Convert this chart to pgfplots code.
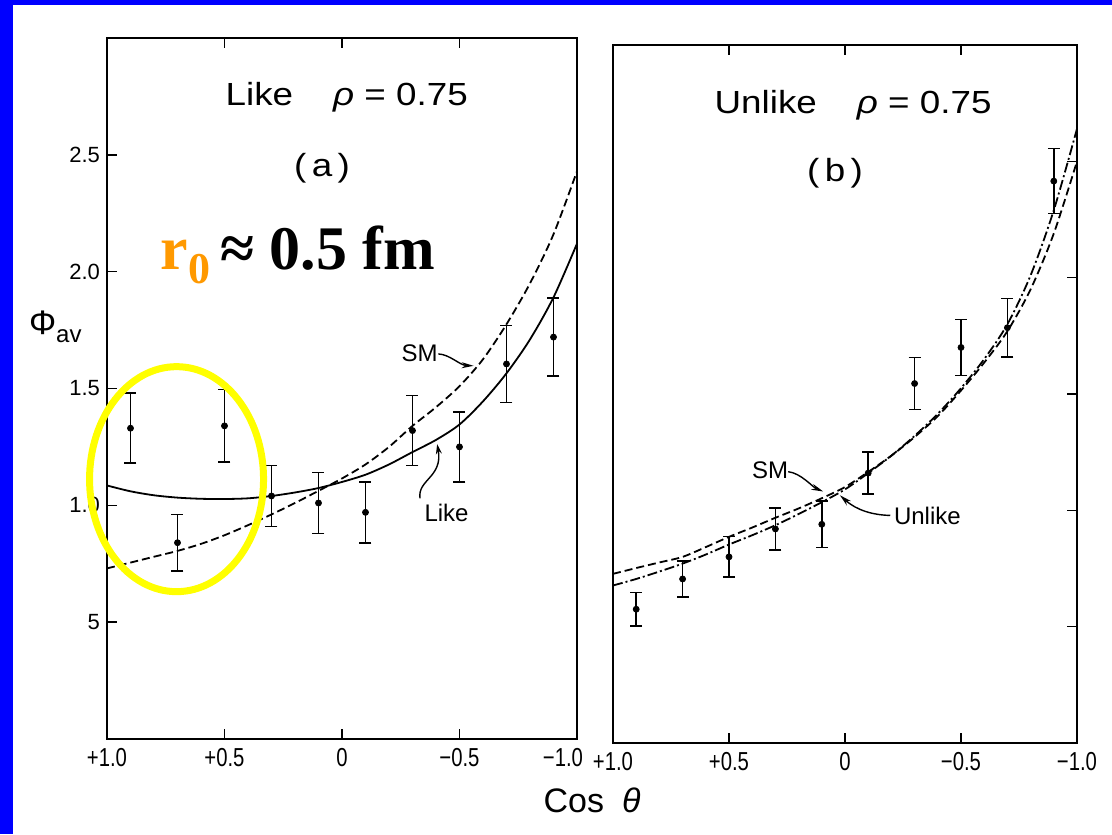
\documentclass[border=0pt]{standalone}
\usepackage{pgfplots}
\pgfplotsset{compat=1.18}
\usepackage{fontspec}
\setmainfont{Liberation Sans}
\newfontfamily\timesfont{Liberation Serif}
\newfontfamily\narrowfont[FakeStretch=0.78]{Liberation Sans}
\newfontfamily\widefont[FakeStretch=1.15]{Liberation Sans}
\usetikzlibrary{arrows.meta}
\definecolor{slideblue}{RGB}{0,0,255}
\definecolor{pporange}{RGB}{255,153,0}
\definecolor{hiyellow}{RGB}{255,255,0}

\pgfplotstableread{
x y e
0.9 1.33 0.15
0.7 0.84 0.12
0.5 1.34 0.155
0.3 1.04 0.13
0.1 1.01 0.13
-0.1 0.97 0.13
-0.3 1.32 0.15
-0.5 1.25 0.15
-0.7 1.605 0.165
-0.9 1.72 0.167
}\likedata

\pgfplotstableread{
x y e
0.9 0.575 0.072
0.7 0.705 0.077
0.5 0.80 0.087
0.3 0.92 0.09
0.1 0.94 0.10
-0.1 1.16 0.09
-0.3 1.545 0.112
-0.5 1.70 0.12
-0.7 1.785 0.126
-0.9 2.415 0.14
}\unlikedata

\pgfplotsset{
  panel/.style={
    scale only axis, clip=false,
    xmin=-1, xmax=1, x dir=reverse,
    ymin=0, ymax=3.0,
    xtick={1,0.5,0,-0.5,-1},
    xtick pos=both, xticklabel pos=lower,
    ytick={0.5,1,1.5,2,2.5},
    tick align=inside,
    major tick length=5pt,
    axis line style={line width=1.1pt},
    every tick/.style={line width=0.8pt, black},
    xticklabel style={font=\narrowfont\fontsize{13}{13}\selectfont, yshift=-1pt},
    yticklabel style={font=\fontsize{11}{11}\selectfont},
  },
  datapts/.style={only marks, black, mark=*, mark size=1.5pt,
    mark options={fill=black, draw=black},
    error bars/.cd, y dir=both, y explicit,
    error bar style={line width=0.8pt, black},
    error mark options={rotate=90, mark size=3pt, line width=0.8pt, black}},
  smcurve/.style={black, line width=0.9pt, smooth, no marks, dash pattern=on 4pt off 2pt},
  likecurve/.style={black, line width=0.9pt, smooth, no marks, solid},
  unlikecurve/.style={black, line width=0.9pt, smooth, no marks, dash pattern=on 5pt off 1.5pt on 1pt off 1.5pt},
}

\begin{document}
\begin{tikzpicture}
\path[use as bounding box] (0,0) rectangle (556pt,417pt);
\fill[slideblue] (0,0) rectangle (556pt,417pt);
\fill[white] (6.5pt,0) rectangle (556pt,414.5pt);

% ---------------- left panel ----------------
\begin{axis}[panel, at={(53.5pt,47.5pt)}, anchor=south west,
  width=235pt, height=350.5pt,
  xticklabels={+1.0,+0.5,0,−0.5,{−1.0\rule{14pt}{0pt}}},
  ytick pos=left,
  yticklabels={5,1.0,1.5,2.0,2.5}]
\addplot+[smcurve] coordinates {
(1.0,0.73) (0.9,0.755) (0.8,0.78) (0.7,0.805) (0.6,0.835) (0.5,0.872)
(0.4,0.915) (0.3,0.961) (0.2,1.01) (0.1,1.062) (0.0,1.115) (-0.1,1.175)
(-0.2,1.25) (-0.3,1.34) (-0.4,1.42) (-0.5,1.51) (-0.6,1.625) (-0.7,1.775)
(-0.8,1.95) (-0.9,2.16) (-1.0,2.43)};
\addplot+[likecurve] coordinates {
(1.0,1.085) (0.9,1.06) (0.8,1.043) (0.7,1.033) (0.6,1.028) (0.5,1.027)
(0.4,1.03) (0.3,1.04) (0.2,1.055) (0.1,1.074) (0.0,1.10) (-0.1,1.131)
(-0.2,1.175) (-0.3,1.228) (-0.4,1.28) (-0.5,1.346) (-0.6,1.445) (-0.7,1.565)
(-0.8,1.71) (-0.9,1.89) (-1.0,2.12)};
\addplot+[datapts] table[x=x, y=y, y error=e] {\likedata};

\node[font=\widefont\fontsize{16}{16}\selectfont] at (axis cs:-0.02,2.745) {Like\hspace{20pt}\textit{ρ} = 0.75};
\node[font=\widefont\fontsize{16}{16}\selectfont] at (axis cs:0.085,2.444) {(\,a\,)};
\node[font=\fontsize{12}{12}\selectfont] at (axis cs:-0.33,1.651) {SM};
\draw[line width=0.7pt, -{Stealth[length=6pt,width=3pt]}] (axis cs:-0.41,1.648) .. controls (axis cs:-0.46,1.645) and (axis cs:-0.50,1.60) .. (axis cs:-0.56,1.597);
\node[font=\fontsize{12}{12}\selectfont] at (axis cs:-0.445,0.966) {Like};
\draw[line width=0.7pt, -{Stealth[length=5pt,width=3pt]}] (axis cs:-0.332,1.03) .. controls (axis cs:-0.32,1.11) and (axis cs:-0.43,1.12) .. (axis cs:-0.405,1.262);
\node[anchor=base west, inner sep=0pt] at (axis cs:0.774,2.009)
  {\timesfont\bfseries\fontsize{31}{31}\selectfont\textcolor{pporange}{r\raisebox{-7pt}{\fontsize{22}{22}\selectfont 0}}\,≈ 0.5 fm};
\draw[hiyellow, line width=3.5pt] (axis cs:0.704,1.112) ellipse [x radius=43.5pt, y radius=56.25pt];
\end{axis}

% ---------------- right panel ----------------
\begin{axis}[panel, at={(306.5pt,45.5pt)}, anchor=south west,
  width=232pt, height=349pt,
  xticklabels={+1.0,+0.5,0,−0.5,−1.0},
  ytick pos=right,
  yticklabels={}]
\addplot+[smcurve] coordinates {
(1.0,0.727) (0.9,0.752) (0.8,0.776) (0.7,0.80) (0.6,0.842) (0.5,0.886)
(0.4,0.926) (0.3,0.968) (0.2,1.008) (0.1,1.052) (0.0,1.10) (-0.1,1.165)
(-0.2,1.235) (-0.3,1.315) (-0.4,1.405) (-0.5,1.515) (-0.6,1.635) (-0.7,1.77)
(-0.8,1.95) (-0.9,2.19) (-1.0,2.50)};
\addplot+[unlikecurve] coordinates {
(1.0,0.677) (0.9,0.705) (0.8,0.737) (0.7,0.771) (0.6,0.81) (0.5,0.853)
(0.4,0.893) (0.3,0.936) (0.2,0.984) (0.1,1.035) (0.0,1.09) (-0.1,1.16)
(-0.2,1.235) (-0.3,1.32) (-0.4,1.415) (-0.5,1.525) (-0.6,1.65) (-0.7,1.80)
(-0.8,2.01) (-0.9,2.29) (-1.0,2.64)};
\addplot+[datapts] table[x=x, y=y, y error=e] {\unlikedata};

\node[font=\widefont\fontsize{16}{16}\selectfont] at (axis cs:-0.035,2.74) {Unlike\hspace{20pt}\textit{ρ} = 0.75};
\node[font=\widefont\fontsize{16}{16}\selectfont] at (axis cs:0.043,2.45) {(\,b\,)};
\node[font=\fontsize{12}{12}\selectfont] at (axis cs:0.323,1.174) {SM};
\draw[line width=0.7pt, -{Stealth[length=6pt,width=3pt]}] (axis cs:0.245,1.166) .. controls (axis cs:0.19,1.16) and (axis cs:0.14,1.10) .. (axis cs:0.094,1.081);
\node[font=\fontsize{12}{12}\selectfont] at (axis cs:-0.355,0.974) {Unlike};
\draw[line width=0.7pt, -{Stealth[length=6pt,width=3pt]}] (axis cs:-0.195,0.978) .. controls (axis cs:-0.12,0.98) and (axis cs:-0.05,1.00) .. (axis cs:0.022,1.065);
\end{axis}

% axis titles
\node[font=\fontsize{17}{17}\selectfont, anchor=west] at (11pt,253.5pt) {Φ\raisebox{-4pt}{\fontsize{12}{12}\selectfont av}};
\node[font=\fontsize{17}{17}\selectfont] at (296pt,17pt) {Cos\hspace{9pt}\textit{θ}};
\end{tikzpicture}
\end{document}
